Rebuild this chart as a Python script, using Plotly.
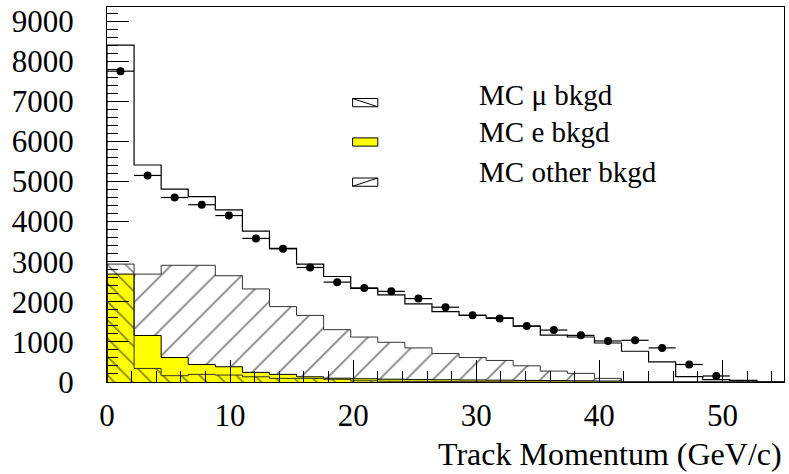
import plotly.graph_objects as go

# ---- data ----
bin_width = 2.2
n_bins = 25
edges = [round(i * bin_width, 4) for i in range(n_bins + 1)]
centers = [round((edges[i] + edges[i + 1]) / 2, 4) for i in range(n_bins)]

mc_total = [8400, 5410, 4810, 4620, 4290, 3760, 3330, 2940, 2630, 2335,
            2170, 1950, 1757, 1658, 1600, 1395, 1170, 1122, 973, 767,
            503, 132, 58, 40, 0]
data_vals = [7750, 5150, 4600, 4420, 4150, 3580, 3320, 2855, 2490, 2345,
             2260, 2080, 1865, 1667, 1585, 1395, 1295, 1163, 1023, 1040,
             850, 437, 150, None, None]
mc_other = [2600, 2690, 2910, 2910, 2650, 2320, 1880, 1660, 1305, 1120,
            990, 850, 710, 610, 537, 404, 272, 215, 90, 0,
            0, 0, 0, 0, 0]
mc_e = [2690, 1160, 611, 437, 380, 240, 190, 130, 95, 80,
        70, 60, 55, 50, 45, 40, 35, 30, 25, 0,
        0, 0, 0, 0, 0]
mc_mu = [2940, 338, 157, 190, 173, 130, 90, 90, 66, 30,
         20, 15, 10, 8, 5, 0, 0, 0, 0, 0,
         0, 0, 0, 0, 0]

legend_labels = ["MC \u03bc bkgd", "MC e bkgd", "MC other bkgd"]
x_title = "Track Momentum (GeV/c)"

FONT = "Liberation Serif, Times New Roman, serif"


def step_xy(vals):
    xs = [edges[0]] + edges + [edges[-1]]
    ys = [0] + list(vals) + [vals[-1], 0]
    return xs, ys


fig = go.Figure()

# MC other background (/ hatch)
x, y = step_xy(mc_other)
fig.add_trace(go.Scatter(
    x=x, y=y, mode="lines", line=dict(shape="hv", color="#333", width=1),
    fill="tozeroy", fillcolor="white",
    fillpattern=dict(shape="/", fgcolor="black", bgcolor="white", size=19, solidity=0.09),
    hoverinfo="skip", showlegend=False))

# MC e background (yellow)
x, y = step_xy(mc_e)
fig.add_trace(go.Scatter(
    x=x, y=y, mode="lines", line=dict(shape="hv", color="black", width=1),
    fill="tozeroy", fillcolor="#ffff00",
    hoverinfo="skip", showlegend=False))

# MC mu background (\ hatch, transparent)
x, y = step_xy(mc_mu)
fig.add_trace(go.Scatter(
    x=x, y=y, mode="lines", line=dict(shape="hv", color="#333", width=1),
    fill="tozeroy", fillcolor="rgba(0,0,0,0)",
    fillpattern=dict(shape="\\", fgcolor="black", bgcolor="rgba(0,0,0,0)", size=13, solidity=0.12),
    hoverinfo="skip", showlegend=False))

# MC total (outline)
x, y = step_xy(mc_total)
fig.add_trace(go.Scatter(
    x=x, y=y, mode="lines", line=dict(shape="hv", color="black", width=1.2),
    hoverinfo="skip", showlegend=False))

# Data points
fig.add_trace(go.Scatter(
    x=centers, y=data_vals, mode="markers",
    marker=dict(color="black", size=8),
    error_x=dict(type="constant", value=bin_width / 2, color="black", thickness=1.2, width=0),
    hoverinfo="skip", showlegend=False))

# ---- custom legend (symbols + text) ----
x0p, x1p = 0.3628, 0.4000
rows_y = [0.745, 0.640, 0.533]
half_h = 0.011
styles = ["mu", "e", "other"]
text_y = [0.765, 0.668, 0.560]
for yc, st, lab, ty in zip(rows_y, styles, legend_labels, text_y):
    fill = "#ffff00" if st == "e" else "white"
    fig.add_shape(type="rect", xref="paper", yref="paper",
                  x0=x0p, x1=x1p, y0=yc - half_h, y1=yc + half_h,
                  line=dict(color="black", width=1), fillcolor=fill)
    if st == "mu":
        fig.add_shape(type="line", xref="paper", yref="paper",
                      x0=x0p, x1=x1p, y0=yc + half_h, y1=yc - half_h,
                      line=dict(color="black", width=1))
    elif st == "other":
        fig.add_shape(type="line", xref="paper", yref="paper",
                      x0=x0p, x1=x1p, y0=yc - half_h, y1=yc + half_h,
                      line=dict(color="black", width=1))
    fig.add_annotation(xref="paper", yref="paper", x=0.546, y=ty,
                       xanchor="left", yanchor="middle", text=lab,
                       showarrow=False, font=dict(family=FONT, size=29, color="black"))

fig.add_annotation(xref="paper", yref="paper", x=1.0, y=-0.193,
                   xanchor="right", yanchor="middle", text=x_title,
                   showarrow=False, font=dict(family=FONT, size=32, color="black"))

fig.update_layout(
    width=789, height=474,
    margin=dict(l=107, r=4, t=4, b=92),
    paper_bgcolor="white", plot_bgcolor="white",
    font=dict(family=FONT, size=31, color="black"),
)
fig.update_xaxes(
    range=[0, 55], showgrid=False, zeroline=False,
    showline=True, linecolor="black", linewidth=1, mirror=True,
    ticks="inside", ticklen=22, tickcolor="black", tickwidth=1,
    tick0=0, dtick=10, ticklabelstandoff=6,
    minor=dict(ticks="inside", ticklen=11, dtick=2, tickcolor="black", tickwidth=1, showgrid=False),
    tickfont=dict(family=FONT, size=31, color="black"),
)
fig.update_yaxes(
    range=[0, 9350], showgrid=False, zeroline=False,
    showline=True, linecolor="black", linewidth=1, mirror=True,
    ticks="inside", ticklen=22, tickcolor="black", tickwidth=1,
    tick0=0, dtick=1000, ticklabelstandoff=26,
    minor=dict(ticks="inside", ticklen=11, dtick=200, tickcolor="black", tickwidth=1, showgrid=False),
    tickfont=dict(family=FONT, size=31, color="black"),
)

fig.write_html("out.html")
